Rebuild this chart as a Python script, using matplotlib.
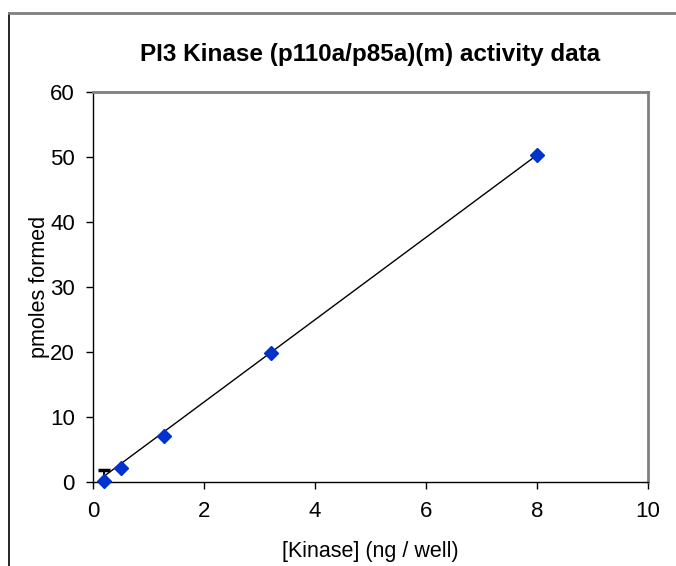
import matplotlib as mpl
mpl.use("Agg")
import matplotlib.pyplot as plt
from matplotlib.lines import Line2D

plt.rcParams['font.family'] = ['Liberation Sans', 'DejaVu Sans']

# kinase amount (ng / well) and product formed (pmoles)
kinase = [0.2, 0.512, 1.28, 3.2, 8.0]
pmoles = [0.15, 2.15, 7.1, 19.8, 50.3]
err_x = [0.2]
err_y = [0.15]
err_up = [1.7]
# trend line
fit_x = [0.2, 8.0]
fit_y = [0.9, 50.3]

fig = plt.figure(figsize=(6.76, 5.66), dpi=100)
ax = fig.add_axes([0.1376, 0.1484, 0.8210, 0.6891])

ax.plot(fit_x, fit_y, color='black', lw=1, zorder=2)
ax.errorbar(err_x, err_y, yerr=[err_up, err_up], fmt='none', ecolor='black',
            elinewidth=1.5, capsize=4, capthick=2.5, zorder=3)
ax.plot(kinase, pmoles, linestyle='none', marker='D', markersize=7.5,
        color='#0033CC', markeredgecolor='#0033CC', zorder=4, clip_on=False)

ax.set_xlim(0, 10)
ax.set_ylim(0, 60)
ax.set_xticks(range(0, 11, 2))
ax.set_yticks(range(0, 61, 10))
ax.tick_params(labelsize=16, length=5, width=1, direction='out')
ax.tick_params(axis='x', pad=9)
ax.tick_params(axis='y', pad=8)

for s in ['top', 'right']:
    ax.spines[s].set_color('#808080')
    ax.spines[s].set_linewidth(2)
for s in ['left', 'bottom']:
    ax.spines[s].set_color('black')
    ax.spines[s].set_linewidth(1)

ax.set_title('PI3 Kinase (p110a/p85a)(m) activity data', fontsize=17.5,
             fontweight='bold', pad=22)
ax.set_xlabel('[Kinase] (ng / well)', fontsize=15.5, labelpad=13)
ax.set_ylabel('pmoles formed', fontsize=15.5, labelpad=0)

# outer chart frame
fig.add_artist(Line2D([9 / 676, 9 / 676], [0, 1 - 13 / 566], color='black', lw=1.2))
fig.add_artist(Line2D([9 / 676, 1], [1 - 13 / 566, 1 - 13 / 566], color='#808080', lw=2))

fig.savefig('out.png', dpi=100)
